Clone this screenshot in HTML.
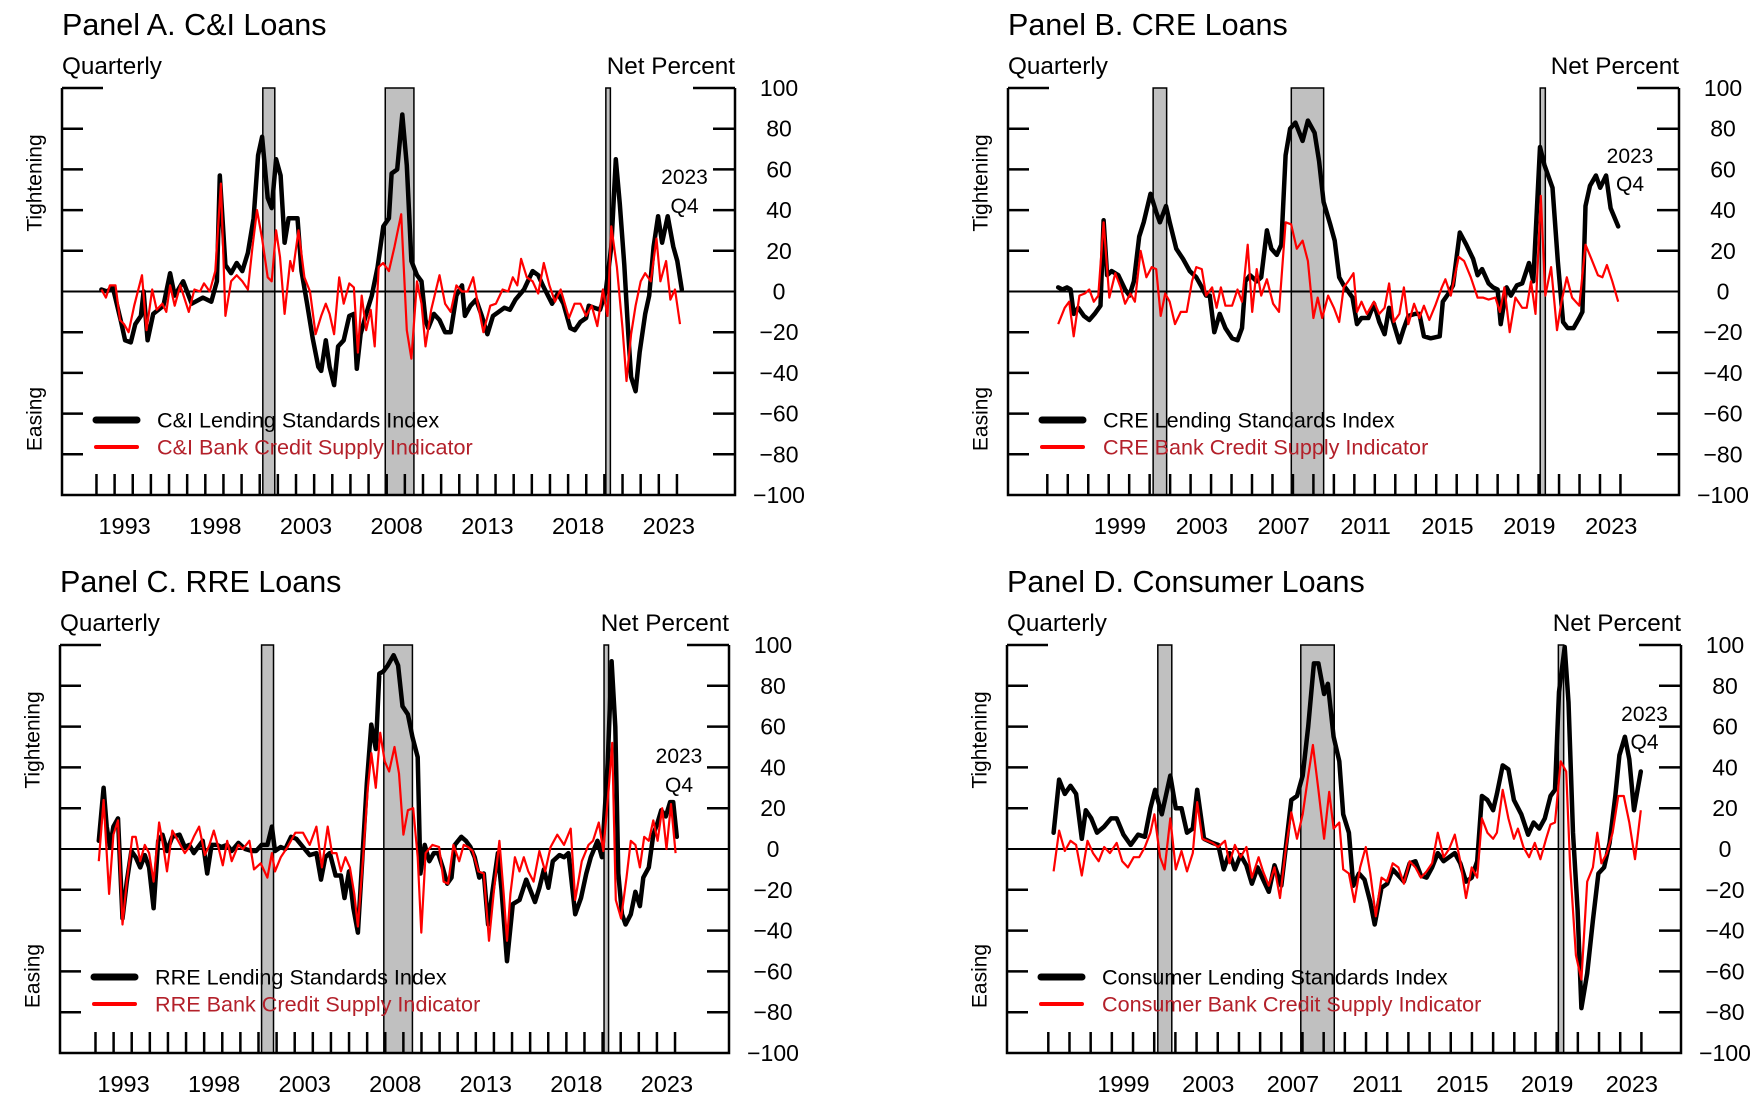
<!DOCTYPE html>
<html><head><meta charset="utf-8"><title>Lending Standards and Bank Credit Supply</title>
<style>html,body{margin:0;padding:0;background:#fff;}svg{display:block;font-family:"Liberation Sans",Arial,sans-serif;}</style>
</head><body>
<svg id="chart" width="1759" height="1101" viewBox="0 0 1759 1101" xmlns="http://www.w3.org/2000/svg"></svg>
<script>
// ---------- data ----------
const recStarts = [2001.17, 2007.92, 2020.08];
const recEnds = [2001.83, 2009.5, 2020.33];
const yTickVals = [-80, -60, -40, -20, 20, 40, 60, 80];
const yLabelVals = [100, 80, 60, 40, 20, 0, -20, -40, -60, -80, -100];
const yearLabelsAC = [1993, 1998, 2003, 2008, 2013, 2018, 2023];
const yearLabelsBD = [1999, 2003, 2007, 2011, 2015, 2019, 2023];

const aBlackDates = [1992.27,1992.58,1992.9,1993.36,1993.58,1993.89,1994.14,1994.45,1994.6,1994.82,1995.13,1995.69,1996.06,1996.31,1996.78,1997.25,1997.87,1998.33,1998.64,1998.8,1999.11,1999.42,1999.73,2000.04,2000.35,2000.66,2000.91,2001.13,2001.44,2001.66,2001.9,2002.15,2002.37,2002.59,2003.08,2003.3,2003.61,2003.92,2004.23,2004.39,2004.64,2004.85,2005.1,2005.32,2005.63,2005.94,2006.19,2006.35,2006.56,2006.87,2007.18,2007.5,2007.81,2008.12,2008.27,2008.58,2008.86,2009.11,2009.36,2009.67,2009.92,2010.14,2010.29,2010.6,2010.91,2011.22,2011.53,2011.84,2012.15,2012.31,2012.62,2012.93,2013.24,2013.55,2013.86,2014.17,2014.48,2014.79,2015.1,2015.57,2016.04,2016.35,2016.66,2017.12,2017.43,2017.74,2018.12,2018.37,2018.68,2018.99,2019.14,2019.45,2019.76,2020.07,2020.38,2020.63,2020.85,2021.1,2021.32,2021.47,2021.72,2021.94,2022.25,2022.47,2022.71,2022.96,2023.18,2023.49,2023.8,2024.02,2024.27];
const aBlackVals = [1,0,2,-15,-24,-25,-16,-12,0,-24,-11,-7,9,-2,5,-6,-3,-5,5,57,13,9,14,10,19,36,67,76,46,41,65,57,24,36,36,10,-6,-23,-37,-39,-24,-37,-46,-27,-24,-12,-11,-38,-21,-11,-2,12,32,36,58,60,87,62,15,8,5,-14,-18,-11,-14,-20,-20,-2,3,-12,-7,-4,-12,-21,-12,-10,-8,-9,-4,1,10,8,2,-6,-1,-6,-18,-19,-15,-13,-7,-8,-9,0,22,65,43,13,-21,-42,-49,-30,-11,-2,22,37,24,37,22,15,1];
const aRedDates = [1992.27,1992.52,1992.74,1993.05,1993.3,1993.52,1993.77,1994.08,1994.51,1994.76,1995.07,1995.32,1995.63,1995.85,1996.06,1996.31,1996.62,1997.09,1997.4,1997.71,1997.93,1998.24,1998.55,1998.86,1999.11,1999.42,1999.73,2000.04,2000.35,2000.6,2000.85,2001.13,2001.44,2001.66,2001.9,2002.12,2002.37,2002.68,2002.83,2003.14,2003.46,2003.77,2004.08,2004.39,2004.64,2004.85,2005.1,2005.38,2005.63,2005.94,2006.19,2006.41,2006.62,2006.87,2007.12,2007.34,2007.56,2007.8,2008.12,2008.43,2008.8,2009.11,2009.36,2009.67,2009.92,2010.14,2010.45,2010.91,2011.22,2011.53,2011.84,2012.15,2012.46,2012.77,2013.02,2013.33,2013.71,2014.02,2014.39,2014.7,2014.95,2015.2,2015.41,2015.72,2016.04,2016.35,2016.66,2016.97,2017.28,2017.59,2018.05,2018.36,2018.68,2018.99,2019.3,2019.61,2019.92,2020.17,2020.38,2020.69,2021.0,2021.22,2021.47,2021.72,2022.0,2022.25,2022.56,2022.87,2023.09,2023.4,2023.64,2023.89,2024.17];
const aRedVals = [1,-3,3,3,-14,-16,-20,-7,8,-19,1,-9,-6,-10,3,-7,3,-10,1,0,4,0,10,53,-12,5,8,5,1,22,40,26,7,5,30,17,-11,15,10,30,7,0,-21,-12,-6,-11,-21,7,-6,4,2,-30,-2,-19,-9,-27,12,14,10,22,38,-19,-33,5,-6,-27,-9,8,-6,-10,3,0,0,7,-6,-20,-7,-6,1,0,7,3,16,7,5,-1,14,3,-5,1,-13,-6,-6,-12,-7,-17,1,-12,32,12,-18,-44,-21,-7,5,9,5,26,5,15,-4,1,-16];

const bBlackDates = [1996.53,1996.74,1996.96,1997.14,1997.29,1997.51,1997.79,1998.05,1998.31,1998.6,1998.75,1998.92,1999.14,1999.47,1999.8,2000.01,2000.23,2000.49,2000.71,2001.04,2001.32,2001.5,2001.8,2001.98,2002.3,2002.63,2002.96,2003.28,2003.5,2003.76,2003.94,2004.16,2004.42,2004.7,2005.03,2005.29,2005.51,2005.68,2005.9,2006.23,2006.45,2006.73,2006.95,2007.21,2007.43,2007.64,2007.86,2008.12,2008.47,2008.73,2009.06,2009.28,2009.5,2009.82,2010.04,2010.26,2010.48,2010.7,2010.91,2011.13,2011.35,2011.68,2011.96,2012.22,2012.48,2012.7,2012.99,2013.2,2013.42,2013.64,2013.97,2014.18,2014.4,2014.73,2015.17,2015.32,2015.6,2015.82,2016.15,2016.47,2016.8,2017.02,2017.24,2017.56,2017.78,2018.0,2018.15,2018.44,2018.65,2018.94,2019.2,2019.53,2019.74,2020.07,2020.29,2020.68,2020.94,2021.2,2021.42,2021.71,2021.99,2022.14,2022.29,2022.51,2022.8,2023.01,2023.3,2023.52,2023.89];
const bBlackVals = [2,1,2,1,-11,-8,-12,-14,-11,-7,35,8,10,8,1,-2,5,27,34,48,39,34,42,34,21,16,10,7,3,-2,-2,-20,-11,-18,-23,-24,-18,5,8,5,7,30,21,18,23,67,80,83,74,84,78,64,44,33,25,7,3,0,-3,-16,-13,-13,-6,-15,-21,-8,-18,-25,-18,-12,-11,-11,-22,-23,-22,-5,-1,3,29,23,16,8,11,4,2,1,-16,2,-2,3,4,14,5,71,62,51,15,-15,-18,-18,-13,-10,42,52,57,51,57,41,32];
const bRedDates = [1996.53,1996.85,1997.07,1997.29,1997.57,1997.83,1998.05,1998.27,1998.49,1998.75,1999.03,1999.32,1999.58,1999.8,2000.06,2000.28,2000.56,2000.84,2001.1,2001.32,2001.54,2001.76,2001.98,2002.24,2002.52,2002.81,2003.07,2003.28,2003.55,2003.76,2004.05,2004.27,2004.48,2004.7,2005.03,2005.29,2005.51,2005.79,2006.01,2006.23,2006.45,2006.73,2007.03,2007.32,2007.64,2007.91,2008.19,2008.47,2008.73,2009.0,2009.21,2009.43,2009.72,2010.0,2010.26,2010.48,2010.7,2010.96,2011.13,2011.35,2011.61,2011.96,2012.22,2012.48,2012.7,2012.92,2013.2,2013.42,2013.64,2013.92,2014.18,2014.4,2014.66,2014.95,2015.27,2015.45,2015.71,2016.1,2016.36,2016.69,2017.02,2017.28,2017.56,2017.89,2018.11,2018.33,2018.59,2018.87,2019.2,2019.42,2019.63,2019.85,2020.11,2020.33,2020.61,2020.9,2021.12,2021.38,2021.64,2021.99,2022.29,2022.58,2022.9,2023.12,2023.34,2023.6,2023.89];
const bRedVals = [-16,-8,-5,-22,-2,-1,1,-5,-2,34,-3,9,2,-6,-1,-5,20,7,12,11,-12,-1,-5,-16,-10,-10,5,12,11,-2,2,-8,2,-7,-7,1,-5,23,-10,11,-2,6,-6,-10,34,33,21,25,15,-13,-3,-13,-2,-8,-15,2,5,9,-10,-5,-11,-5,-11,-8,4,-15,-11,2,-16,-6,-13,-7,-14,-7,2,6,-2,17,15,7,-3,-3,-4,-3,-10,2,-20,-3,-8,-8,5,-11,47,-2,12,-19,-5,7,-3,-7,23,16,8,7,13,5,-5];

const cBlackDates = [1992.18,1992.45,1992.62,1992.8,1992.99,1993.24,1993.49,1993.73,1993.98,1994.22,1994.47,1994.72,1994.96,1995.21,1995.46,1995.7,1995.95,1996.24,1996.64,1996.93,1997.18,1997.43,1997.67,1997.92,1998.17,1998.41,1998.71,1998.95,1999.27,1999.52,1999.89,2000.26,2000.63,2000.87,2001.17,2001.49,2001.74,2001.91,2002.23,2002.48,2002.8,2003.09,2003.46,2003.83,2004.2,2004.45,2004.69,2004.94,2005.26,2005.55,2005.75,2006.0,2006.24,2006.49,2006.74,2006.98,2007.23,2007.48,2007.67,2007.89,2008.14,2008.46,2008.71,2008.95,2009.25,2009.5,2009.79,2009.94,2010.18,2010.43,2010.68,2010.92,2011.17,2011.42,2011.66,2011.84,2012.2,2012.45,2012.7,2012.94,2013.19,2013.44,2013.68,2013.93,2014.22,2014.42,2014.72,2015.04,2015.41,2015.78,2016.27,2016.51,2016.76,2017.01,2017.25,2017.62,2017.87,2018.12,2018.49,2018.81,2019.1,2019.35,2019.72,2019.96,2020.28,2020.5,2020.7,2020.87,2021.07,2021.27,2021.56,2021.81,2022.06,2022.25,2022.55,2022.8,2023.04,2023.24,2023.49,2023.73,2023.9,2024.1];
const cBlackVals = [4,30,11,1,11,15,-34,-16,-1,-4,-9,-3,-9,-29,4,7,-1,6,7,1,2,-2,1,4,-12,2,2,1,2,-1,3,0,-1,-1,2,2,11,-1,1,0,6,5,1,-3,-2,-15,-4,-2,-13,-13,-24,-11,-29,-41,-4,32,61,49,86,87,90,95,90,70,66,55,45,-12,2,-6,-2,-2,-9,-17,-14,2,6,4,1,-4,-14,-12,-37,-20,-2,-20,-55,-27,-25,-15,-26,-19,-10,-19,-6,-3,-4,-2,-32,-24,-12,-4,4,-4,42,92,60,-12,-32,-37,-32,-21,-28,-14,-9,7,13,19,16,23,23,6];
const cRedDates = [1992.18,1992.45,1992.75,1992.99,1993.24,1993.49,1993.73,1994.03,1994.22,1994.47,1994.72,1994.96,1995.21,1995.51,1995.75,1995.95,1996.24,1996.56,1996.93,1997.18,1997.43,1997.72,1998.04,1998.29,1998.53,1998.78,1999.03,1999.27,1999.52,1999.89,2000.14,2000.5,2000.75,2001.12,2001.49,2001.74,2001.91,2002.23,2002.6,2003.04,2003.46,2003.83,2004.2,2004.5,2004.82,2005.06,2005.31,2005.55,2005.8,2006.05,2006.29,2006.49,2006.79,2007.03,2007.23,2007.48,2007.72,2007.97,2008.21,2008.51,2008.76,2009.0,2009.25,2009.54,2009.79,2009.99,2010.23,2010.6,2010.97,2011.22,2011.47,2011.76,2012.08,2012.33,2012.57,2012.82,2013.14,2013.44,2013.73,2013.98,2014.3,2014.54,2014.72,2014.91,2015.16,2015.41,2015.65,2015.9,2016.19,2016.51,2016.83,2017.13,2017.5,2017.87,2018.24,2018.49,2018.85,2019.22,2019.47,2019.79,2020.04,2020.33,2020.53,2020.73,2021.02,2021.32,2021.56,2021.81,2022.06,2022.3,2022.55,2022.8,2023.04,2023.29,2023.53,2023.78,2024.03];
const cRedVals = [-6,24,-22,7,14,-37,-16,6,6,-6,2,-2,-16,13,1,-11,9,4,-2,1,6,11,-3,2,9,1,-8,4,-6,2,0,4,-10,-7,-14,-2,-11,-4,1,8,8,2,11,-9,11,-2,-2,-11,-4,-9,-22,-38,-2,29,47,30,57,43,38,50,37,7,19,20,-4,-41,-2,2,1,-16,-17,2,-6,2,1,-1,-11,-12,-45,-22,4,-22,-45,-22,-4,-11,-4,-11,-16,-1,-11,1,7,2,10,-25,-6,2,4,13,-1,29,52,-25,-34,-14,4,2,-9,6,4,14,4,20,0,22,-2];

const dBlackDates = [1996.25,1996.51,1996.78,1997.05,1997.31,1997.58,1997.77,1998.03,1998.3,1998.64,1998.96,1999.23,1999.55,1999.89,2000.24,2000.56,2000.82,2001.04,2001.36,2001.76,2002.02,2002.29,2002.55,2002.82,2003.03,2003.35,2003.75,2004.02,2004.28,2004.55,2004.81,2005.08,2005.35,2005.61,2005.88,2006.14,2006.41,2006.68,2007.0,2007.26,2007.47,2007.74,2008.01,2008.27,2008.54,2008.75,2009.02,2009.2,2009.47,2009.74,2009.92,2010.19,2010.4,2010.67,2010.93,2011.2,2011.41,2011.73,2012.0,2012.26,2012.53,2012.79,2013.06,2013.33,2013.59,2013.86,2014.12,2014.39,2014.66,2014.92,2015.19,2015.45,2015.72,2015.99,2016.25,2016.47,2016.73,2017.0,2017.18,2017.45,2017.72,2017.98,2018.33,2018.65,2018.91,2019.18,2019.44,2019.71,2019.92,2020.11,2020.38,2020.56,2020.77,2020.99,2021.17,2021.44,2021.71,2021.97,2022.24,2022.5,2022.77,2022.96,2023.22,2023.43,2023.65,2023.97];
const dBlackVals = [8,34,27,31,27,5,19,15,8,11,15,15,7,2,7,6,20,29,17,36,20,20,8,10,29,5,3,2,-10,-2,-10,-3,-8,-17,-9,-15,-21,-8,-18,5,24,26,36,60,91,91,76,81,55,43,17,8,-18,-12,-15,-26,-37,-19,-17,-10,-13,-16,-7,-6,-13,-14,-9,-2,-6,-4,-2,-7,-16,-14,-6,26,24,19,27,41,39,24,17,7,13,10,15,26,29,77,99,72,8,-30,-78,-61,-35,-12,-9,3,26,46,55,44,19,38];
const dRedDates = [1996.25,1996.51,1996.78,1997.05,1997.31,1997.58,1997.85,1998.11,1998.38,1998.64,1998.91,1999.23,1999.49,1999.76,2000.03,2000.29,2000.56,2000.82,2001.01,2001.28,2001.49,2001.76,2002.02,2002.29,2002.55,2002.82,2003.03,2003.27,2003.75,2004.02,2004.34,2004.55,2004.81,2005.08,2005.35,2005.61,2005.93,2006.14,2006.41,2006.68,2006.94,2007.21,2007.47,2007.74,2008.01,2008.27,2008.49,2008.75,2009.02,2009.26,2009.47,2009.74,2009.92,2010.19,2010.45,2010.72,2010.99,2011.2,2011.46,2011.73,2012.0,2012.26,2012.53,2012.79,2013.06,2013.33,2013.59,2013.86,2014.12,2014.39,2014.66,2014.92,2015.19,2015.45,2015.72,2015.99,2016.25,2016.47,2016.73,2017.0,2017.18,2017.45,2017.72,2017.98,2018.17,2018.43,2018.7,2018.97,2019.23,2019.5,2019.71,2019.92,2020.19,2020.45,2020.64,2020.91,2021.17,2021.44,2021.71,2021.92,2022.11,2022.37,2022.64,2022.91,2023.17,2023.43,2023.7,2023.97];
const dRedVals = [-11,9,-1,4,2,-13,4,-2,-6,1,-2,3,-6,-9,-4,-4,1,8,17,-4,-10,15,-10,-1,-11,-2,23,5,3,1,4,-7,2,-4,1,-14,-4,-11,-18,-9,-24,0,18,5,17,36,51,29,5,28,10,13,-10,-12,-26,-9,1,-12,-33,-14,-16,-7,-9,-17,-6,-9,-14,-11,-7,8,-4,0,7,-6,-24,-9,-14,15,8,5,8,29,15,5,10,1,-4,3,-5,5,12,13,43,38,-9,-52,-64,-16,-9,8,-7,-2,8,26,26,13,-5,19];

// ---------- drawing ----------
const NS = 'http://www.w3.org/2000/svg';
const svg = document.getElementById('chart');
function mk(parent, tag, attrs, text) {
  const e = document.createElementNS(NS, tag);
  for (const k in attrs) e.setAttribute(k, attrs[k]);
  if (text !== undefined) e.textContent = text;
  parent.appendChild(e);
  return e;
}

const panels = [
  {id:'a', title:'Panel A. C&I Loans', L:62, R:735, T:88, B:495, t0:1990.1, t1:2027.2, tickFrom:1992, tickTo:2024, labels:yearLabelsAC,
   black:[aBlackDates,aBlackVals], red:[aRedDates,aRedVals], lb:'C&I Lending Standards Index', lr:'C&I Bank Credit Supply Indicator', ann:[684.5,184,213]},
  {id:'b', title:'Panel B. CRE Loans', L:1008, R:1679, T:88, B:495, t0:1994.08, t1:2026.86, tickFrom:1996, tickTo:2024, labels:yearLabelsBD,
   black:[bBlackDates,bBlackVals], red:[bRedDates,bRedVals], lb:'CRE Lending Standards Index', lr:'CRE Bank Credit Supply Indicator', ann:[1630,163,191]},
  {id:'c', title:'Panel C. RRE Loans', L:60, R:729, T:645, B:1053, t0:1990.04, t1:2026.98, tickFrom:1992, tickTo:2024, labels:yearLabelsAC,
   black:[cBlackDates,cBlackVals], red:[cRedDates,cRedVals], lb:'RRE Lending Standards Index', lr:'RRE Bank Credit Supply Indicator', ann:[679,763,792]},
  {id:'d', title:'Panel D. Consumer Loans', L:1007, R:1681, T:645, B:1053, t0:1994.05, t1:2025.87, tickFrom:1996, tickTo:2024, labels:yearLabelsBD,
   black:[dBlackDates,dBlackVals], red:[dRedDates,dRedVals], lb:'Consumer Lending Standards Index', lr:'Consumer Bank Credit Supply Indicator', ann:[1644.5,721,749]}
];

panels.forEach(p => {
  const g = mk(svg, 'g', {});
  
  
  const x = t => p.L + (t - p.t0) / (p.t1 - p.t0) * (p.R - p.L);
  const y = v => p.T + (100 - v) / 200 * (p.B - p.T);

  let e = mk(g, 'text', {x:p.L, y:p.T-53, 'font-size':30.5, fill:'#000'}, p.title);
  
  
  e = mk(g, 'text', {x:p.L, y:p.T-14, 'font-size':24.3, fill:'#000'}, 'Quarterly');
  
  
  e = mk(g, 'text', {x:p.R, y:p.T-14, 'font-size':24.3, fill:'#000', 'text-anchor':'end'}, 'Net Percent');
  
  

  recStarts.forEach((s, i) => {
    const r = mk(g, 'rect', {x:x(s), y:p.T, width:Math.max(1, x(recEnds[i]) - x(s)), height:p.B-p.T, fill:'#c0c0c0', stroke:'#000', 'stroke-width':1.5});
    
    
  });

  const fr = mk(g, 'path', {d:`M${p.L},${p.T}V${p.B}H${p.R}V${p.T}M${p.L},${p.T}h41M${p.R},${p.T}h-42`, fill:'none', stroke:'#000', 'stroke-width':2.5});
  
  

  yTickVals.forEach(v => {
    const tk = mk(g, 'path', {d:`M${p.L},${y(v)}h21M${p.R},${y(v)}h-22`, stroke:'#000', 'stroke-width':2.5});
    
    
  });
  yLabelVals.forEach(v => {
    const tl = mk(g, 'text', {x:p.R+44, y:y(v)+8, 'font-size':23, 'text-anchor':'middle', fill:'#000'}, v < 0 ? '\u2212' + Math.abs(v) : String(v));
    
    
  });
  for (let yr = p.tickFrom; yr <= p.tickTo; yr++) {
    const xt = mk(g, 'path', {d:`M${x(yr)},${p.B}v-21`, stroke:'#000', 'stroke-width':2.5});
    
    
  }
  p.labels.forEach(yr => {
    const xl = mk(g, 'text', {x:x(yr+0.55), y:p.B+39, 'font-size':23.5, 'text-anchor':'middle', fill:'#000'}, String(yr));
    
    
  });

  const zl = mk(g, 'line', {x1:p.L, x2:p.R, y1:y(0), y2:y(0), stroke:'#000', 'stroke-width':2});
  
  

  const tx = p.L - 27;
  e = mk(g, 'text', {x:tx, y:p.T+95, 'font-size':21, 'text-anchor':'middle', 'dominant-baseline':'central', transform:`rotate(-90 ${tx} ${p.T+95})`}, 'Tightening');
  
  
  e = mk(g, 'text', {x:tx, y:p.T+331, 'font-size':21, 'text-anchor':'middle', 'dominant-baseline':'central', transform:`rotate(-90 ${tx} ${p.T+331})`}, 'Easing');
  
  

  const path = (ds, vs) => ds.map((t, i) => (i ? 'L' : 'M') + x(t).toFixed(1) + ',' + y(vs[i]).toFixed(1)).join('');
  const bl = mk(g, 'path', {d:path(p.black[0], p.black[1]), fill:'none', stroke:'#000', 'stroke-width':4.5, 'stroke-linejoin':'round', 'stroke-linecap':'round'});
  
  
  const rl = mk(g, 'path', {d:path(p.red[0], p.red[1]), fill:'none', stroke:'#ff0000', 'stroke-width':2.2, 'stroke-linejoin':'round'});
  
  

  const ly1 = p.T + 332, ly2 = p.T + 359;
  e = mk(g, 'line', {x1:p.L+34, x2:p.L+75, y1:ly1, y2:ly1, stroke:'#000', 'stroke-width':7, 'stroke-linecap':'round'});
  
  
  e = mk(g, 'text', {x:p.L+95, y:ly1+7.5, 'font-size':21.6, fill:'#000'}, p.lb);
  
  
  e = mk(g, 'line', {x1:p.L+34, x2:p.L+75, y1:ly2, y2:ly2, stroke:'#ff0000', 'stroke-width':4, 'stroke-linecap':'round'});
  
  
  e = mk(g, 'text', {x:p.L+95, y:ly2+7.5, 'font-size':21.6, fill:'#b3202a'}, p.lr);
  
  

  e = mk(g, 'text', {x:p.ann[0], y:p.ann[1], 'font-size':21, 'text-anchor':'middle', fill:'#000'}, '2023');
  
  
  e = mk(g, 'text', {x:p.ann[0], y:p.ann[2], 'font-size':21, 'text-anchor':'middle', fill:'#000'}, 'Q4');
  
  
});
</script>
</body></html>
